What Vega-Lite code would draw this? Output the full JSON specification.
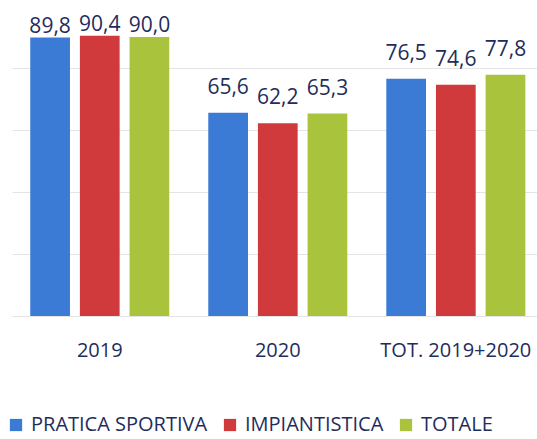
{
  "$schema": "https://vega.github.io/schema/vega-lite/v6.json",
  "autosize": {"type": "none"},
  "width": 525,
  "height": 310,
  "padding": {"left": 12, "top": 6, "right": 0, "bottom": 123},
  "background": "white",
  "config": {
    "view": {"stroke": null},
    "font": "Open Sans",
    "locale": {"number": {"decimal": ",", "thousands": ".", "grouping": [3], "currency": ["", " €"]}}
  },
  "data": {
    "values": [
      {"periodo": "2019", "serie": "PRATICA SPORTIVA", "ord": 1, "valore": 89.8},
      {"periodo": "2019", "serie": "IMPIANTISTICA", "ord": 2, "valore": 90.4},
      {"periodo": "2019", "serie": "TOTALE", "ord": 3, "valore": 90.0},
      {"periodo": "2020", "serie": "PRATICA SPORTIVA", "ord": 1, "valore": 65.6},
      {"periodo": "2020", "serie": "IMPIANTISTICA", "ord": 2, "valore": 62.2},
      {"periodo": "2020", "serie": "TOTALE", "ord": 3, "valore": 65.3},
      {"periodo": "TOT. 2019+2020", "serie": "PRATICA SPORTIVA", "ord": 1, "valore": 76.5},
      {"periodo": "TOT. 2019+2020", "serie": "IMPIANTISTICA", "ord": 2, "valore": 74.6},
      {"periodo": "TOT. 2019+2020", "serie": "TOTALE", "ord": 3, "valore": 77.8}
    ]
  },
  "encoding": {
    "x": {
      "field": "periodo", "type": "nominal", "title": null, "sort": null,
      "scale": {"paddingInner": 0.219, "paddingOuter": 0.084, "align": 0.61},
      "axis": {"labelAngle": 0, "ticks": false, "domain": false, "labelPadding": 24, "labelFontSize": 20, "labelColor": "#1f2d5c", "labelFont": "Open Sans"}
    },
    "xOffset": {"field": "serie", "type": "nominal", "sort": ["PRATICA SPORTIVA", "IMPIANTISTICA", "TOTALE"], "scale": {"paddingInner": 0.2, "paddingOuter": 0}},
    "y": {
      "field": "valore", "type": "quantitative", "title": null,
      "scale": {"domain": [0, 100]},
      "axis": {"labels": false, "ticks": false, "domain": false, "values": [0, 20, 40, 60, 80], "gridColor": "#e4e4e4", "gridWidth": 1}
    }
  },
  "layer": [
    {
      "mark": {"type": "bar", "stroke": null},
      "encoding": {
        "color": {
          "field": "serie", "type": "nominal", "title": null,
          "scale": {"domain": ["PRATICA SPORTIVA", "IMPIANTISTICA", "TOTALE"], "range": ["#3b7bd6", "#d03a3c", "#a9c33c"]},
          "legend": {
            "orient": "none", "legendX": -6, "legendY": 409, "direction": "horizontal",
            "symbolType": "square", "symbolSize": 150, "symbolStrokeWidth": 0,
            "labelFontSize": 20, "labelColor": "#1f2d5c", "labelFont": "Open Sans",
            "columnPadding": 12, "labelOffset": 5, "labelLimit": 300
          }
        }
      }
    },
    {
      "transform": [{"filter": "datum.periodo == '2019'"}],
      "mark": {"type": "text", "baseline": "alphabetic", "dy": -5, "fontSize": 21, "color": "#1f2d5c", "font": "Open Sans"},
      "encoding": {
        "text": {"field": "valore", "type": "quantitative", "format": ".1f"}
      }
    },
    {
      "transform": [{"filter": "datum.periodo != '2019'"}],
      "mark": {"type": "text", "baseline": "alphabetic", "dy": -19, "fontSize": 21, "color": "#1f2d5c", "font": "Open Sans"},
      "encoding": {
        "text": {"field": "valore", "type": "quantitative", "format": ".1f"}
      }
    }
  ]
}
